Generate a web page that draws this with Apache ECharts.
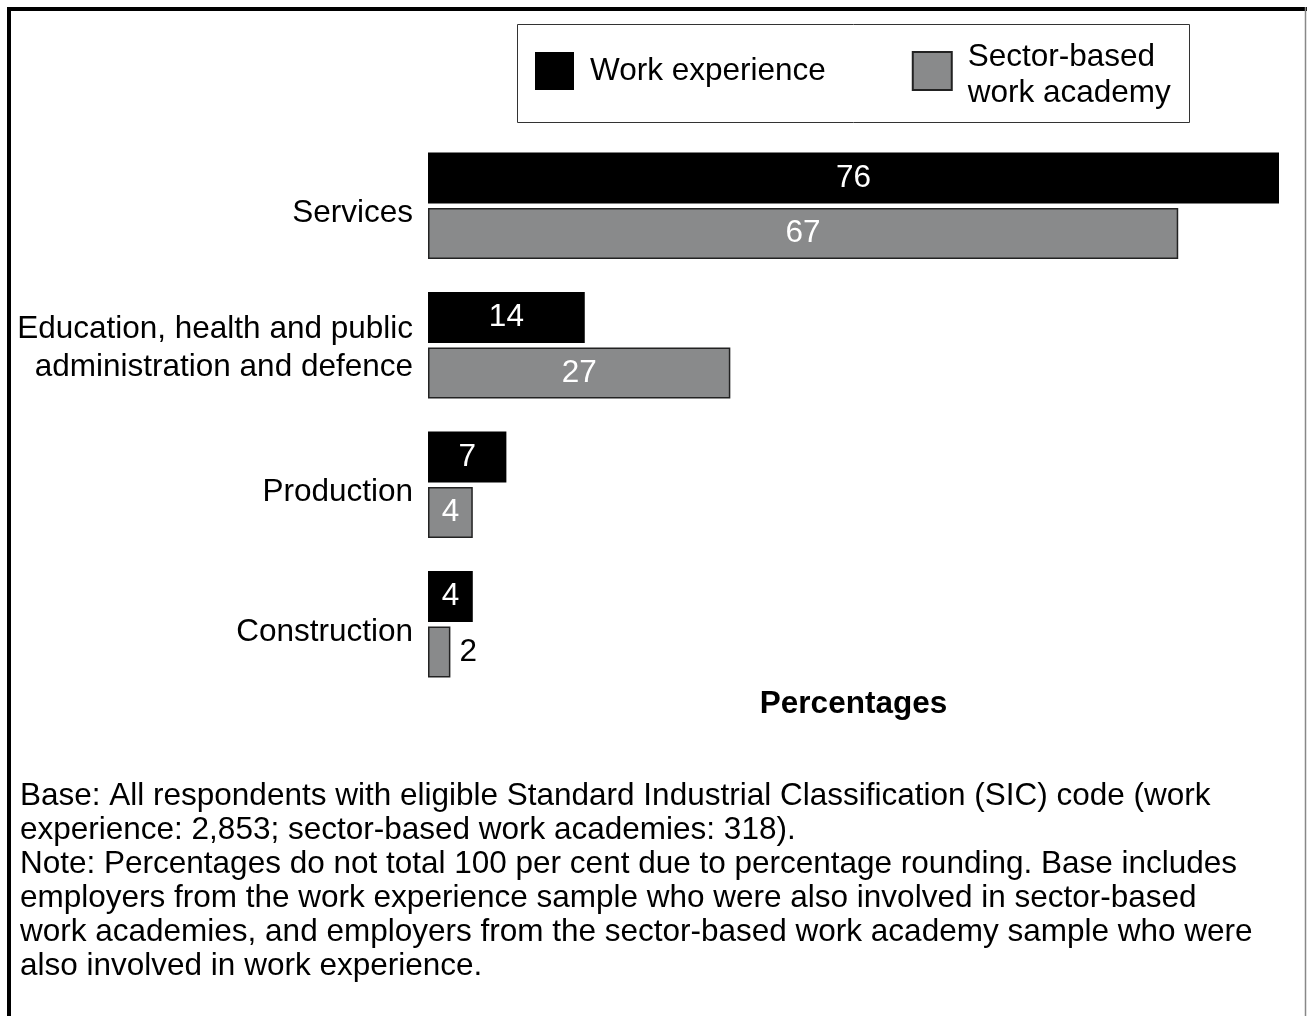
<!DOCTYPE html>
<html>
<head>
<meta charset="utf-8">
<script src="https://cdn.jsdelivr.net/npm/echarts@6/dist/echarts.min.js"></script>
<style>
html,body{margin:0;padding:0;background:#fff;}
#chart{width:1307px;height:1016px;}
</style>
</head>
<body>
<div id="chart"></div>
<script>
const categories = ['Services', 'Education, health and public\nadministration and defence', 'Production', 'Construction'];
const seriesNames = ['Work experience', 'Sector-based work academy'];
const legendLines = ['Sector-based', 'work academy'];
const workExperience = [76, 14, 7, 4];
const sectorAcademy = [67, 27, 4, 2];
const axisName = 'Percentages';
const footnote = [
  'Base: All respondents with eligible Standard Industrial Classification (SIC) code (work',
  'experience: 2,853; sector-based work academies: 318).',
  'Note: Percentages do not total 100 per cent due to percentage rounding. Base includes',
  'employers from the work experience sample who were also involved in sector-based',
  'work academies, and employers from the sector-based work academy sample who were',
  'also involved in work experience.'
];

const FONT = '"Liberation Sans", Arial, sans-serif';
const FS = 31.5;

function toData(arr) {
  return arr.map(v => v < 3 ? {value: v, label: {position: 'right', color: '#000', distance: 9}} : v);
}

const chart = echarts.init(document.getElementById('chart'), null, {renderer: 'canvas'});
chart.setOption({
  backgroundColor: '#fff',
  animation: false,
  textStyle: {fontFamily: FONT},
  grid: {left: 428, right: 28, top: 136, height: 558, containLabel: false},
  legend: {
    left: 530, top: 36,
    itemWidth: 39, itemHeight: 38, itemGap: 86,
    icon: 'rect',
    data: seriesNames,
    formatter: n => n === seriesNames[1]
      ? '{a|' + legendLines[0] + '}\n{b|' + legendLines[1] + '}'
      : '{w|' + n + '}',
    textStyle: {
      fontSize: FS, color: '#000', fontFamily: FONT, padding: [0, 0, 0, 11],
      rich: {
        a: {fontSize: FS, fontFamily: FONT, color: '#000', lineHeight: 44},
        b: {fontSize: FS, fontFamily: FONT, color: '#000', lineHeight: 28},
        w: {fontSize: FS, fontFamily: FONT, color: '#000', lineHeight: 38}
      }
    },
    selectedMode: false
  },
  xAxis: {
    type: 'value', min: 0, max: 76,
    axisLine: {show: false}, axisTick: {show: false}, axisLabel: {show: false}, splitLine: {show: false},
    name: axisName, nameLocation: 'middle', nameGap: 10,
    nameTextStyle: {fontSize: FS, fontWeight: 'bold', color: '#000', fontFamily: FONT, verticalAlign: 'middle'}
  },
  yAxis: {
    type: 'category', inverse: true, data: categories,
    axisLine: {show: false}, axisTick: {show: false},
    axisLabel: {
      fontSize: FS, color: '#000', margin: 15, lineHeight: 38, align: 'right', fontFamily: FONT,
      padding: [6, 0, 0, 0],
      formatter: v => v.indexOf('\n') >= 0 ? v : '{s|' + v + '}',
      rich: {s: {fontSize: FS, fontFamily: FONT, color: '#000', padding: [10, 0, 0, 0]}}
    }
  },
  series: [
    {
      name: seriesNames[0], type: 'bar', data: toData(workExperience),
      barWidth: 51, barGap: '9%',
      itemStyle: {color: '#000', borderColor: '#000', borderWidth: 0},
      label: {show: true, position: 'inside', color: '#fff', fontSize: FS, fontFamily: FONT}
    },
    {
      name: seriesNames[1], type: 'bar', data: toData(sectorAcademy),
      barWidth: 51,
      itemStyle: {color: '#898a8b', borderColor: '#222', borderWidth: 1.5},
      label: {show: true, position: 'inside', color: '#fff', fontSize: FS, fontFamily: FONT}
    }
  ],
  graphic: [
    {type: 'line', silent: true, shape: {x1: 7, y1: 9, x2: 1307, y2: 9}, style: {stroke: '#000', lineWidth: 4}},
    {type: 'line', silent: true, shape: {x1: 9, y1: 7, x2: 9, y2: 1016}, style: {stroke: '#000', lineWidth: 4}},
    {type: 'line', silent: true, shape: {x1: 1305.5, y1: 7, x2: 1305.5, y2: 1016}, style: {stroke: '#888', lineWidth: 1.5}},
    {type: 'rect', silent: true, shape: {x: 517.5, y: 24.5, width: 672, height: 98}, style: {fill: 'none', stroke: '#333', lineWidth: 1}},
    {type: 'text', silent: true, left: 20, top: 779,
      style: {text: footnote.join('\n'), font: FS + 'px ' + FONT, fill: '#000', lineHeight: 34}}
  ]
});
</script>
</body>
</html>
